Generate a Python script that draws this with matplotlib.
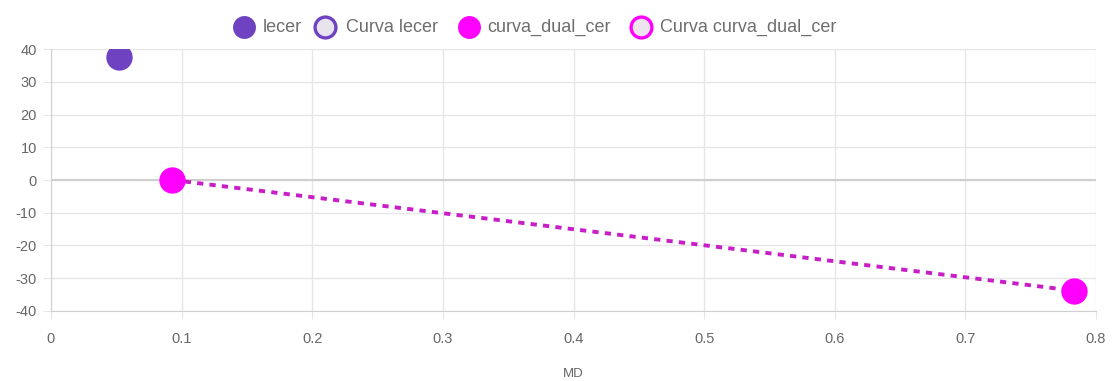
import matplotlib
matplotlib.use("Agg")
import matplotlib.pyplot as plt
from matplotlib.lines import Line2D

# datos
lecer_x = [0.052]
lecer_y = [37.5]
dual_x = [0.093, 0.783]
dual_y = [0.0, -33.8]

x_ticks = [0, 0.1, 0.2, 0.3, 0.4, 0.5, 0.6, 0.7, 0.8]
y_ticks = [40, 30, 20, 10, 0, -10, -20, -30, -40]
labels = ["lecer", "Curva lecer", "curva_dual_cer", "Curva curva_dual_cer"]

purple = "#6f42c1"
magenta = "#ff00ff"
grid_c = "#e6e6e6"
text_c = "#666666"

plt.rcParams['font.family'] = ['Liberation Sans', 'DejaVu Sans']

W, H = 1115, 381
fig = plt.figure(figsize=(W / 100, H / 100), dpi=100)
ax = fig.add_axes([0.0457, 0.184, 0.9373, 0.687])

# curva dual (linea discontinua)
ax.plot(dual_x, dual_y, linestyle=(0, (1.6, 1.6)), color="#c81ec8", linewidth=2.8, zorder=2)

ax.scatter(lecer_x, lecer_y, s=360, color=purple, zorder=3, linewidths=0)
ax.scatter(dual_x, dual_y, s=360, color=magenta, zorder=3, linewidths=0)

ax.set_xlim(0, 0.8)
ax.set_ylim(-40, 40)
ax.set_xticks(x_ticks)
ax.set_xticklabels([str(t) if t != 0 else "0" for t in x_ticks])
ax.set_yticks(y_ticks)
ax.set_yticklabels([str(t) for t in y_ticks])

ax.grid(True, color=grid_c, linewidth=1)
ax.axhline(0, color="#cfcfcf", linewidth=1.5, zorder=1)
ax.set_axisbelow(True)
for side in ["top", "right"]:
    ax.spines[side].set_visible(False)
for side in ["left", "bottom"]:
    ax.spines[side].set_color("#d0d0d0")
ax.tick_params(colors=grid_c, labelcolor=text_c, labelsize=10.5, length=6, pad=4)
ax.tick_params(axis='x', pad=9)
ax.set_xlabel("MD", color=text_c, fontsize=9.5, labelpad=16)

# leyenda (colocada a mano, en pixeles)
leg_y = 1 - 27 / H
styles = [
    dict(markerfacecolor=purple, markeredgecolor=purple, markersize=16.5, markeredgewidth=0),
    dict(markerfacecolor="#e8e4ee", markeredgecolor=purple, markersize=15, markeredgewidth=2.4),
    dict(markerfacecolor=magenta, markeredgecolor=magenta, markersize=16.5, markeredgewidth=0),
    dict(markerfacecolor="#eee4ee", markeredgecolor=magenta, markersize=15, markeredgewidth=2.4),
]
marker_px = [243.5, 325, 468.5, 641]
text_px = [263, 346, 487, 660]
for st, mx, tx, lab in zip(styles, marker_px, text_px, labels):
    fig.add_artist(Line2D([mx / W], [leg_y], marker='o', linestyle='none',
                          transform=fig.transFigure, **st))
    fig.text(tx / W, leg_y, lab, color="#6e6e6e", fontsize=13, va='center', ha='left')

fig.savefig("out.png", dpi=100)
